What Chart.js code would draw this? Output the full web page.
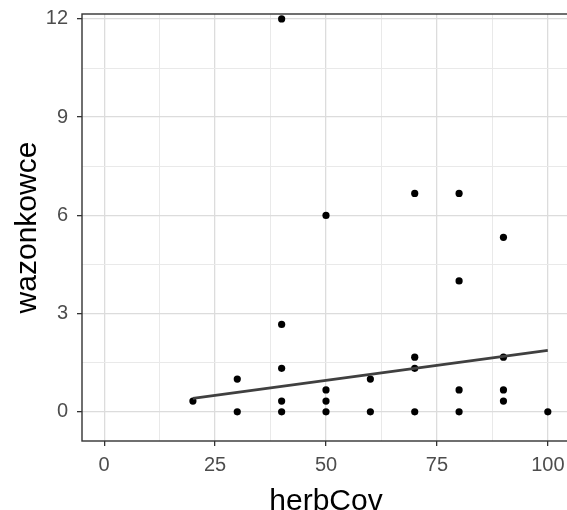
<!DOCTYPE html>
<html>
<head>
<meta charset="utf-8">
<script src="https://cdn.jsdelivr.net/npm/chart.js@4/dist/chart.umd.min.js"></script>
<style>
html,body{margin:0;padding:0;background:#fff;overflow:hidden;width:567px;height:510px;}
canvas{display:block;}
</style>
</head>
<body>
<canvas id="c" width="575" height="510" style="width:575px;height:510px"></canvas>
<script>
// data
const herbCov = [20,30,30,40,40,40,40,40,50,50,50,50,60,60,70,70,70,70,80,80,80,80,90,90,90,90,100];
const wazonkowce = [0.33,1,0,12,2.67,1.33,0.33,0,6,0.67,0.33,0,1,0,6.67,1.67,1.33,0,6.67,4,0.67,0,5.33,1.67,0.67,0.33,0];
const fitX = [20,100];
const fitY = [0.41,1.88];
const xTicks = [0,12.5,25,37.5,50,62.5,75,87.5,100];
const xMajor = [0,25,50,75,100];
const yTicks = [0,1.5,3,4.5,6,7.5,9,10.5,12];
const yMajor = [0,3,6,9,12];

const FONT = "'Liberation Sans',Arial,sans-serif";
const isMajor = (arr, v) => arr.some(m => Math.abs(m - v) < 1e-9);

const borderPlugin = {
  id: 'panelBorder',
  afterDatasetsDraw(chart) {
    const a = chart.chartArea, ctx = chart.ctx;
    ctx.save();
    ctx.strokeStyle = '#333333';
    ctx.lineWidth = 1.4;
    ctx.strokeRect(a.left, a.top, a.right - a.left, a.bottom - a.top);
    ctx.restore();
  }
};

new Chart(document.getElementById('c'), {
  type: 'scatter',
  data: {
    datasets: [
      {
        type: 'line',
        data: fitX.map((x, i) => ({x, y: fitY[i]})),
        borderColor: '#404040',
        borderWidth: 2.8,
        pointRadius: 0,
        fill: false,
        order: 0
      },
      {
        data: herbCov.map((x, i) => ({x, y: wazonkowce[i]})),
        backgroundColor: '#000000',
        borderColor: '#000000',
        borderWidth: 0,
        pointRadius: 3.6,
        order: 1
      }
    ]
  },
  options: {
    responsive: false,
    animation: false,
    events: [],
    layout: {padding: {top: 14, right: 5, left: 0, bottom: 0}},
    plugins: {legend: {display: false}, tooltip: {enabled: false}},
    scales: {
      x: {
        type: 'linear',
        min: -5, max: 105,
        afterBuildTicks(s) { s.ticks = xTicks.map(v => ({value: v})); },
        afterFit(s) { s.height = 69; s.paddingLeft = 0; s.paddingRight = 0; },
        border: {display: false},
        grid: {
          color: c => isMajor(xMajor, c.tick.value) ? '#dcdcdc' : '#e9e9e9',
          lineWidth: c => isMajor(xMajor, c.tick.value) ? 1.3 : 1,
          tickColor: c => isMajor(xMajor, c.tick.value) ? '#333333' : 'rgba(0,0,0,0)',
          tickLength: 5,
          drawTicks: true
        },
        ticks: {
          autoSkip: false,
          maxRotation: 0,
          padding: 7,
          color: '#4d4d4d',
          font: {family: FONT, size: 20},
          callback: v => isMajor(xMajor, v) ? String(v) : ''
        },
        title: {
          display: true,
          text: 'herbCov',
          color: '#000000',
          padding: 0,
          font: {family: FONT, size: 30, lineHeight: 0.567}
        }
      },
      y: {
        type: 'linear',
        min: -0.89, max: 12.15,
        afterBuildTicks(s) { s.ticks = yTicks.map(v => ({value: v})); },
        afterFit(s) { s.width = 82; s.paddingTop = 0; s.paddingBottom = 0; },
        border: {display: false},
        grid: {
          color: c => isMajor(yMajor, c.tick.value) ? '#dcdcdc' : '#e9e9e9',
          lineWidth: c => isMajor(yMajor, c.tick.value) ? 1.3 : 1,
          tickColor: c => isMajor(yMajor, c.tick.value) ? '#333333' : 'rgba(0,0,0,0)',
          tickLength: 5,
          drawTicks: true
        },
        ticks: {
          autoSkip: false,
          padding: 9,
          color: '#4d4d4d',
          font: {family: FONT, size: 20},
          callback: v => isMajor(yMajor, v) ? String(v) : ''
        },
        title: {
          display: true,
          text: 'wazonkowce',
          color: '#000000',
          padding: {top: 13, bottom: 0},
          font: {family: FONT, size: 30, lineHeight: 1}
        }
      }
    }
  },
  plugins: [borderPlugin]
});
</script>
</body>
</html>
